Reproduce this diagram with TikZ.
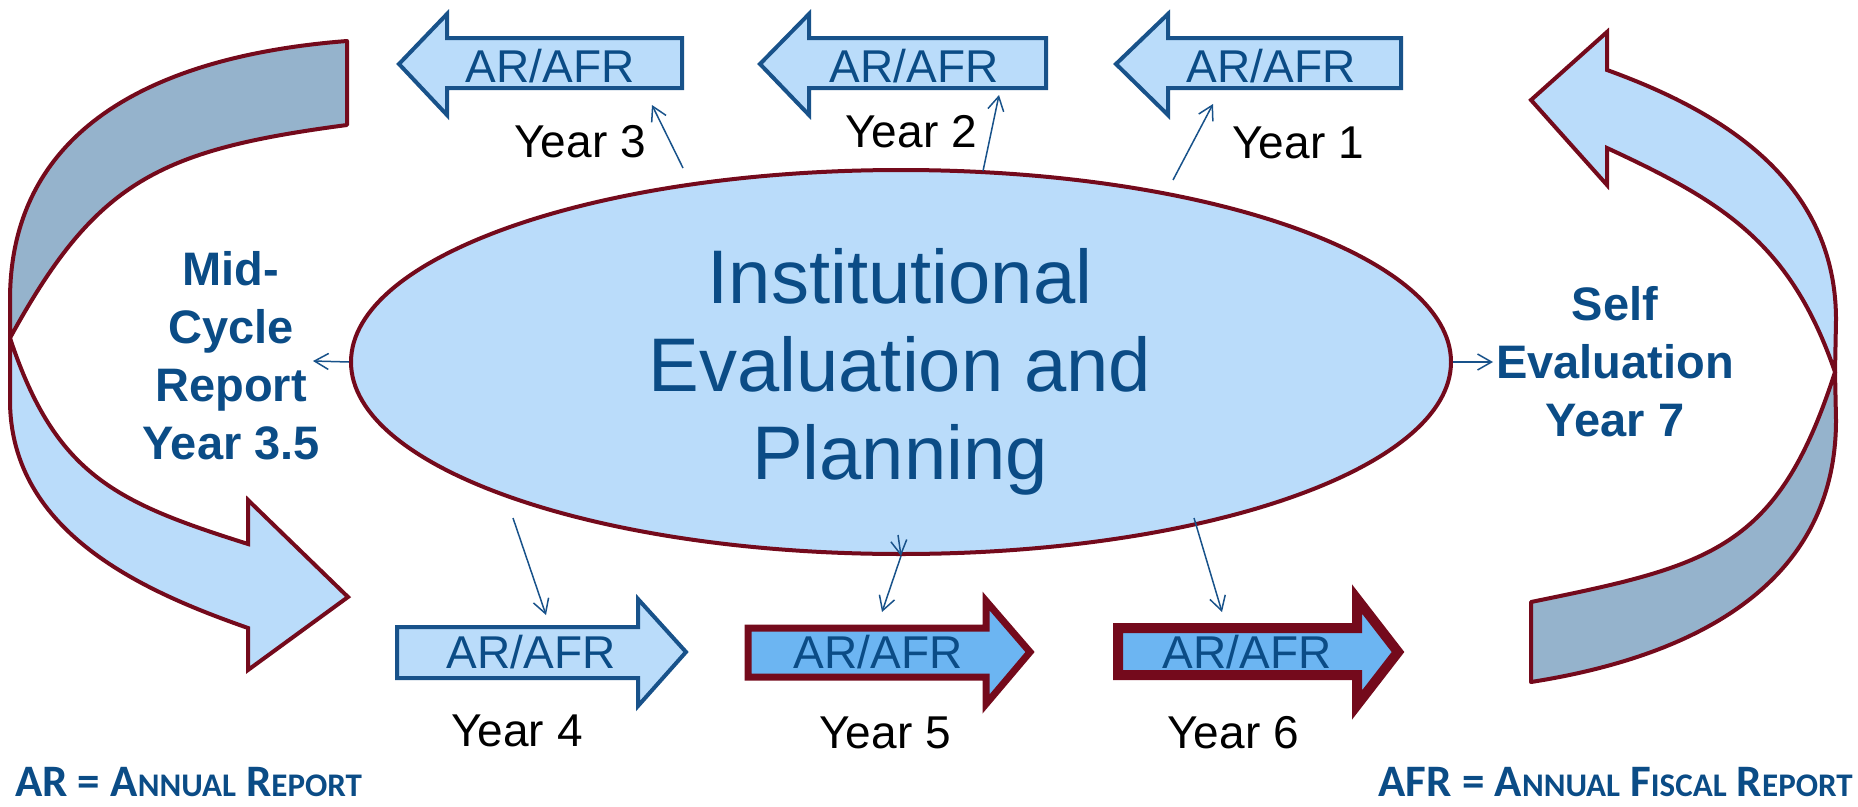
\documentclass[tikz,border=0pt]{standalone}
\usepackage{fontspec}
\setmainfont{Liberation Sans}
\newfontfamily\legendfont{Carlito}
\usepackage{xcolor}
\usetikzlibrary{shapes.geometric,
	arrows.meta,
	positioning}
\definecolor{lightfill}{RGB}{186,220,250}
\definecolor{bandfill}{RGB}{149,179,204}
\definecolor{midfill}{RGB}{108,181,242}
\definecolor{wine}{RGB}{116,10,28}
\definecolor{navy}{RGB}{11,76,134}
\definecolor{boxline}{RGB}{24,82,138}
\newcommand{\lowcap}{\fontsize{33}{40}\selectfont}
\tikzstyle{band}=[draw=wine, line width=4pt, line join=round, fill=bandfill]
\tikzstyle{sweep}=[draw=wine, line width=4pt, line join=miter, fill=lightfill]
\tikzstyle{blk}=[draw=boxline, line width=4pt, line join=miter, fill=lightfill]
\tikzstyle{blkred}=[draw=wine, line join=miter, fill=midfill]
\tikzstyle{boxtxt}=[inner sep=0, text=navy, font=\fontsize{46}{50}\selectfont]
\tikzstyle{yr}=[inner sep=0, font=\fontsize{46}{50}\selectfont]
\tikzstyle{sidetxt}=[inner sep=0, text=navy, align=center, font=\bfseries\fontsize{47}{58}\selectfont]
\tikzstyle{link}=[draw=boxline, line width=1.5pt, -{Straight Barb[length=14pt,width=16pt]}]
\tikzstyle{leg}=[inner sep=0, text=navy, font=\legendfont\bfseries\fontsize{45}{50}\selectfont]

\begin{document}
\begin{tikzpicture}[x=1pt, y=-1pt]
	\useasboundingbox (0,0) rectangle (1858,806);
	% curved arrow on the left
	\draw[band] (347,41) .. controls (205,52) and (10,101) .. (10,300) -- (10,338)
		.. controls (95.7,181.4) and (158,150) .. (347,125) -- cycle;
	\draw[sweep] (10,338) -- (10,400) .. controls (10,534) and (146.7,592.4) .. (248,628)
		-- (248,670) -- (348,597) -- (248,500) -- (248,544)
		.. controls (116.6,502.5) and (55.4,475.5) .. (10,338) -- cycle;
	% curved arrow on the right
	\draw[sweep] (1607,32) -- (1531,100) -- (1607,185) -- (1607,148)
		.. controls (1723.7,202) and (1790.6,243.3) .. (1835,372) -- (1836,320)
		.. controls (1836,180) and (1720.4,111) .. (1607,70) -- cycle;
	\draw[band] (1835,372) -- (1836,420) .. controls (1836,594.8) and (1676.3,659.2) .. (1531,682)
		-- (1531,602) .. controls (1711.2,565.2) and (1777.7,550) .. (1835,372) -- cycle;

	\node[ellipse, draw=wine, line width=4pt, fill=lightfill, inner sep=0,
		minimum width=1100pt, minimum height=384pt] (ell) at (901,362) {};
	\node[anchor=north, inner sep=0, text=navy, align=center,
		font=\fontsize{76}{88}\selectfont] (ttl) at (900,248) {Institutional\\Evaluation and\\Planning};

	\node[sidetxt, anchor=north] (mid) at (231,251) {Mid-\\Cycle\\Report\\Year 3.5};
	\node[sidetxt, anchor=north] (self) at (1615,286) {Self\\Evaluation\\Year 7};

	% top row
	\draw[blk] (682,38) -- (447,38) -- (447,14) -- (399,64) -- (447,115) -- (447,88) -- (682,88) -- cycle;
	\draw[blk] (1046,38) -- (809,38) -- (809,14) -- (760,64) -- (809,115) -- (809,88) -- (1046,88) -- cycle;
	\draw[blk] (1401,38) -- (1168,38) -- (1168,14) -- (1116,64) -- (1168,115) -- (1168,88) -- (1401,88) -- cycle;
	\node[boxtxt] (ar3) at (550,66) {AR/AFR};
	\node[boxtxt] (ar2) at (914,66) {AR/AFR};
	\node[boxtxt] (ar1) at (1271,66) {AR/AFR};
	\node[yr] (y3) at (580,142) {Year 3};
	\node[yr] (y2) at (911,132) {Year 2};
	\node[yr] (y1) at (1298,143) {Year 1};

	% bottom row
	\draw[blk] (397,627) -- (638,627) -- (638,599) -- (686,652) -- (638,706) -- (638,678) -- (397,678) -- cycle;
	\draw[blkred, line width=7pt] (748,628) -- (986,628) -- (986,601) -- (1030,652) -- (986,704) -- (986,677) -- (748,677) -- cycle;
	\draw[blkred, line width=10pt] (1118,628) -- (1357,628) -- (1357,599) -- (1398,652) -- (1357,705) -- (1357,675) -- (1118,675) -- cycle;
	\node[boxtxt] (ar4) at (531,652) {AR/AFR};
	\node[boxtxt] (ar5) at (878,652) {AR/AFR};
	\node[boxtxt] (ar6) at (1247,652) {AR/AFR};
	\node[yr] (y4) at (517,731) {Year 4};
	\node[yr] (y5) at (885,733) {Year 5};
	\node[yr] (y6) at (1233,733) {Year 6};

	\coordinate (c3a) at (683,168); \coordinate (c3b) at (652,105);
	\coordinate (c2a) at (983,171); \coordinate (c2b) at (999,95);
	\coordinate (c1a) at (1173,180); \coordinate (c1b) at (1213,104);
	\coordinate (c4a) at (513,518); \coordinate (c4b) at (546,615);
	\coordinate (c5a) at (898,535); \coordinate (c5b) at (882,612);
	\coordinate (c6a) at (1194,518); \coordinate (c6b) at (1222,612);
	\coordinate (cmid) at (313,361);
	\coordinate (cself) at (1493,362);
	\draw[link] (c3a) -- (c3b);
	\draw[link] (c2a) -- (c2b);
	\draw[link] (c1a) -- (c1b);
	\draw[link] (c4a) -- (c4b);
	\draw[link] (c5a) -- (ell.south);
	\draw[link] (ell.south) -- (c5b);
	\draw[link] (c6a) -- (c6b);
	\draw[link] (ell.west) -- (cmid);
	\draw[link] (ell.east) -- (cself);

	\node[leg, anchor=base west] (legar) at (15,796) {AR = A{\lowcap NNUAL} R{\lowcap EPORT}};
	\node[leg, anchor=base east] (legafr) at (1853,796) {AFR = A{\lowcap NNUAL} F{\lowcap ISCAL} R{\lowcap EPORT}};
\end{tikzpicture}
\end{document}
